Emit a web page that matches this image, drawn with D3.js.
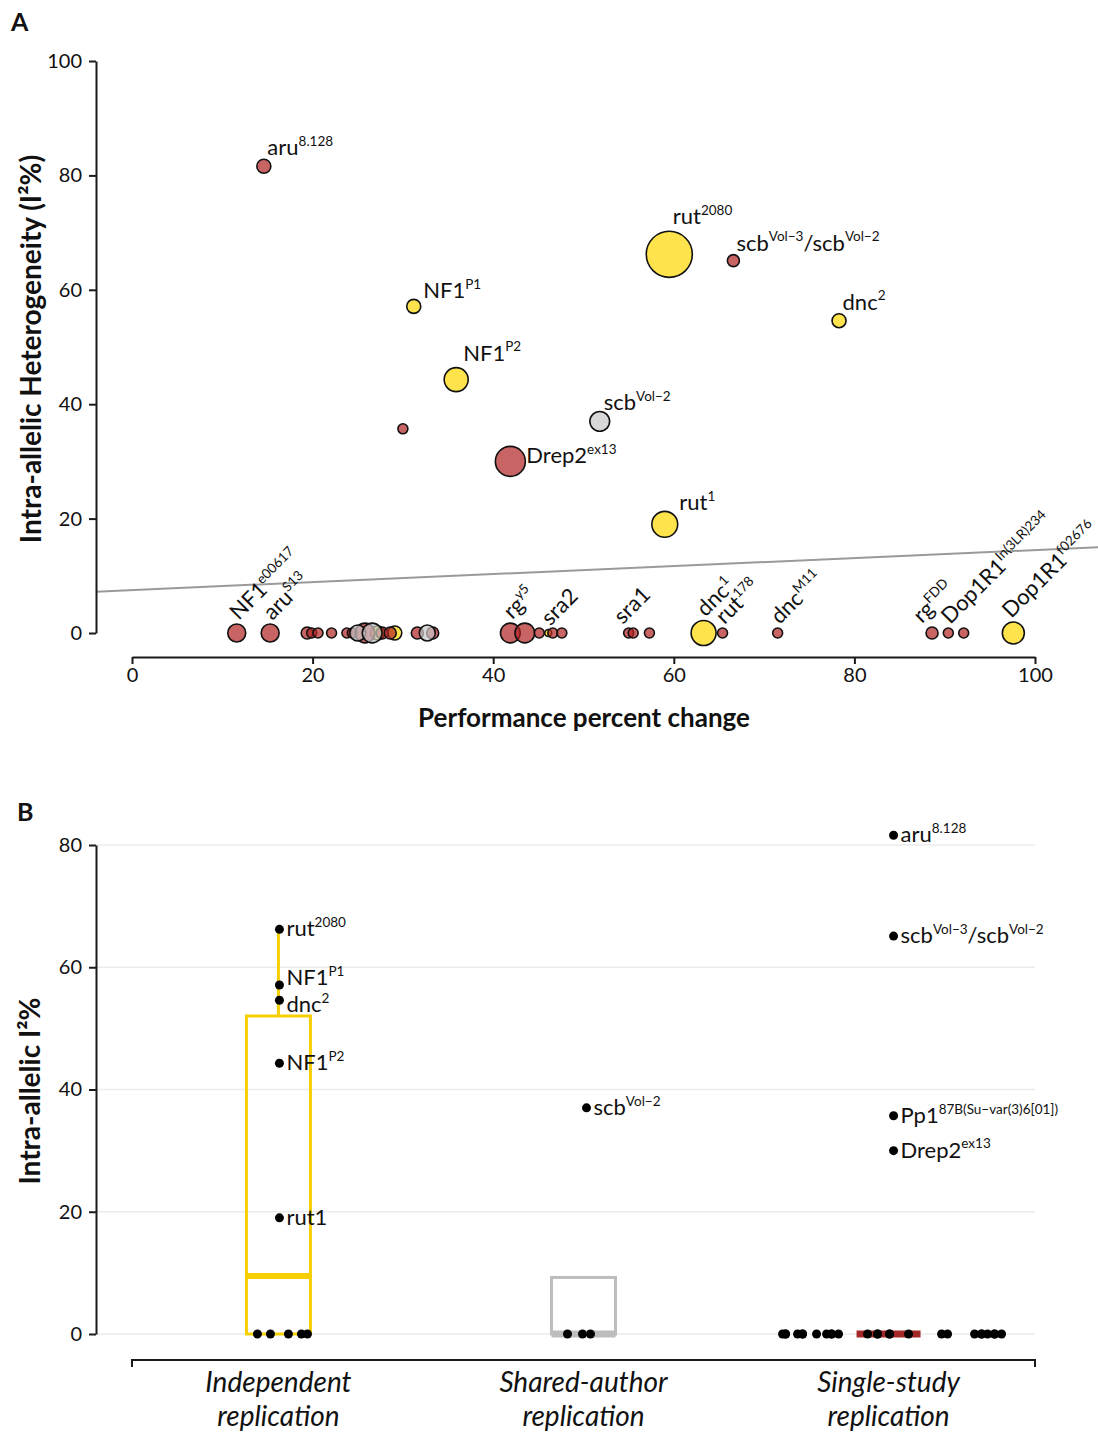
<!DOCTYPE html>
<html>
<head>
<meta charset="utf-8">
<script src="https://cdn.jsdelivr.net/npm/d3@7"></script>
<style>
  body { margin: 0; background: #fff; }
  svg { display: block; }
  text { font-family: Lato, "Noto Sans", sans-serif; fill: #111; }
</style>
</head>
<body>
<svg id="chart" width="1098" height="1432"></svg>
<script>
// ---- data: one entry per allele (superscripts written as ^{...}) ----
const alleleNames = [
  // independent replication
  "rut^{2080}", "NF1^{P1}", "dnc^{2}", "NF1^{P2}", "rut^{1}", "", "", "sra2", "dnc^{1}", "Dop1R1^{f02676}",
  // single-study replication
  "aru^{8.128}", "scb^{Vol−3}/scb^{Vol−2}", "Pp1^{87B(Su−var(3)6[01])}", "Drep2^{ex13}",
  "NF1^{e00617}", "aru^{S13}", "", "", "", "", "", "", "", "", "", "", "",
  "rg^{y5}", "", "", "", "", "sra1", "", "", "rut^{178}", "dnc^{M11}", "rg^{FDD}", "Dop1R1^{In(3LR)234}", "",
  // shared-author replication
  "scb^{Vol−2}", "", "", ""
];
const perfChange = [
  59.5, 31.2, 78.3, 35.9, 59.0, 27.2, 29.1, 46.1, 63.3, 97.6,
  14.6, 66.6, 30.0, 41.9,
  11.6, 15.3, 19.4, 19.9, 20.6, 22.1, 23.8, 24.4, 25.8, 27.7, 28.6, 31.6, 33.3,
  41.9, 43.5, 45.1, 46.6, 47.6, 55.0, 55.5, 57.3, 65.4, 71.5, 88.6, 90.4, 92.1,
  51.8, 25.0, 26.6, 32.7
];
const hetI2 = [
  66.2, 57.1, 54.6, 44.3, 19.0, 0, 0, 0, 0, 0,
  81.6, 65.1, 35.7, 30.0,
  0, 0, 0, 0, 0, 0, 0, 0, 0, 0, 0, 0, 0,
  0, 0, 0, 0, 0, 0, 0, 0, 0, 0, 0, 0, 0,
  37.0, 0, 0, 0
];
const studyWeight = [
  92, 8.5, 8.5, 25, 29, 8.5, 8.5, 2.1, 27, 21,
  8.5, 6.25, 4.3, 39,
  14, 14, 6.25, 4.3, 4.3, 4.3, 4.3, 4.3, 17, 6.25, 6.25, 6.25, 6.25,
  17, 17, 4.3, 4.3, 4.3, 4.3, 4.3, 4.3, 4.3, 4.3, 6.25, 4.3, 4.3,
  17, 11, 17, 11
];
const replication = [
  "I", "I", "I", "I", "I", "I", "I", "I", "I", "I",
  "S", "S", "S", "S",
  "S", "S", "S", "S", "S", "S", "S", "S", "S", "S", "S", "S", "S",
  "S", "S", "S", "S", "S", "S", "S", "S", "S", "S", "S", "S", "S",
  "C", "C", "C", "C"
];
const groupCodes = ["I", "C", "S"];
const groupNames = ["Independent replication", "Shared-author replication", "Single-study replication"];
const xTicksA = [0, 20, 40, 60, 80, 100];
const yTicksA = [0, 20, 40, 60, 80, 100];
const yTicksB = [0, 20, 40, 60, 80];
// fitted trend of I² on performance change
const trendIntercept = 7.5;
const trendSlope = 0.07;

// ---- styling ----
const fillColor = { I: "#FFD700", C: "#C8C8C8", S: "#B22222" };
const boxColor  = { I: "#F5CF00", C: "#BDBDBD", S: "#A52828" };
const hiddenInA = new Set(["Pp1^{87B(Su−var(3)6[01])}"]);
const labelInB = { "rut^{1}": "rut1" };
// label nudges (px) to keep labels clear of neighbours
const nudgeBottom = { "rg^{FDD}": -12, "sra1": -8, "Dop1R1^{f02676}": -4 };
const nudgeUpper = {
  "rut^{2080}": [-8, -3], "NF1^{P1}": [6, 3], "NF1^{P2}": [1, -3],
  "scb^{Vol−2}": [-1, 3], "rut^{1}": [8, 3]
};
const nudgeB = { "NF1^{P1}": -7, "dnc^{2}": 5 };

const points = alleleNames.map((name, i) => ({
  name, perf: perfChange[i], het: hetI2[i], w: studyWeight[i], grp: replication[i]
}));

const svg = d3.select("#chart");

function rich(sel, label, base, sup) {
  const parts = label.split(/(\^\{[^}]*\})/).filter(s => s.length);
  let raised = false;
  parts.forEach(p => {
    if (p.startsWith("^{")) {
      sel.append("tspan").attr("font-size", sup).attr("dy", -base * 0.42).text(p.slice(2, -1));
      raised = true;
    } else {
      sel.append("tspan").attr("font-size", base).attr("dy", raised ? base * 0.42 : 0).text(p);
      raised = false;
    }
  });
}

// ================= Panel A =================
const xA = d3.scaleLinear().domain([0, 100]).range([132, 1035]);
const yA = d3.scaleLinear().domain([0, 100]).range([633, 61]);
const rA = d3.scaleSqrt().domain([0, 100]).range([0, 24]);

svg.append("text").attr("x", 11).attr("y", 31)
  .attr("font-size", 25).attr("font-weight", 700).text("A");

const gA = svg.append("g");

// trend line across the full plotting width
const trendX = [-4, 107.5];
gA.append("line")
  .attr("x1", xA(trendX[0])).attr("y1", yA(trendIntercept + trendSlope * trendX[0]))
  .attr("x2", xA(trendX[1])).attr("y2", yA(trendIntercept + trendSlope * trendX[1]))
  .attr("stroke", "#9a9a9a").attr("stroke-width", 2);

const yAxisA = gA.append("g").attr("transform", "translate(96,0)")
  .call(d3.axisLeft(yA).tickValues(yTicksA).tickSize(7).tickSizeOuter(0).tickPadding(7));
const xAxisA = gA.append("g").attr("transform", "translate(0,657)")
  .call(d3.axisBottom(xA).tickValues(xTicksA).tickSize(7).tickSizeOuter(0).tickPadding(4));
[yAxisA, xAxisA].forEach(ax => {
  ax.attr("font-family", null).attr("font-size", null);
  ax.selectAll("path, line").attr("stroke", "#1a1a1a").attr("stroke-width", 2);
  ax.selectAll("text").attr("font-size", 20).attr("fill", "#111");
});

// bubbles
const order = ["I", "S", "C"];
const drawOrder = points.slice().sort((a, b) => order.indexOf(a.grp) - order.indexOf(b.grp));
gA.append("g").selectAll("circle").data(drawOrder).join("circle")
  .attr("cx", d => xA(d.perf)).attr("cy", d => yA(d.het)).attr("r", d => rA(d.w))
  .attr("fill", d => fillColor[d.grp]).attr("fill-opacity", 0.7)
  .attr("stroke", "#111").attr("stroke-width", 1.6);

// labels
const labA = gA.append("g");
points.filter(d => d.name && !hiddenInA.has(d.name)).forEach(d => {
  const cx = xA(d.perf), cy = yA(d.het), r = rA(d.w);
  const t = labA.append("text");
  if (d.het === 0) {
    const nx = (nudgeBottom[d.name] || 0);
    t.attr("transform", `translate(${cx + 2 + nx},${cy - r - 3}) rotate(-45)`);
  } else if (d.name.startsWith("Drep2")) {
    t.attr("x", cx + r + 1).attr("y", cy + 2);
  } else {
    const [nx, ny] = nudgeUpper[d.name] || [0, 0];
    t.attr("x", cx + r * 0.5 + nx).attr("y", cy - r - 4 + ny);
  }
  rich(t, d.name, 22, 13.5);
});

// axis titles
svg.append("text").attr("transform", "translate(41,349) rotate(-90)")
  .attr("text-anchor", "middle").attr("font-size", 28).attr("font-weight", 700)
  .text("Intra-allelic Heterogeneity (I²%)");
svg.append("text").attr("x", 584).attr("y", 727)
  .attr("text-anchor", "middle").attr("font-size", 26).attr("font-weight", 700)
  .text("Performance percent change");

// ================= Panel B =================
const xB = d3.scalePoint().domain(groupCodes).range([132, 1035]).padding(0.48);
const yB = d3.scaleLinear().domain([0, 80]).range([1334, 845]);
const boxW = 64;

svg.append("text").attr("x", 17).attr("y", 821)
  .attr("font-size", 25).attr("font-weight", 700).text("B");

const gB = svg.append("g");

// horizontal grid
gB.append("g").selectAll("line").data(yTicksB).join("line")
  .attr("x1", 96).attr("x2", 1035).attr("y1", d => yB(d)).attr("y2", d => yB(d))
  .attr("stroke", "#ebebeb").attr("stroke-width", 1.5);

const yAxisB = gB.append("g").attr("transform", "translate(96,0)")
  .call(d3.axisLeft(yB).tickValues(yTicksB).tickSize(7).tickSizeOuter(0).tickPadding(7));
yAxisB.attr("font-family", null).attr("font-size", null);
yAxisB.selectAll("path, line").attr("stroke", "#1a1a1a").attr("stroke-width", 2);
yAxisB.selectAll("text").attr("font-size", 20).attr("fill", "#111");

// bracket-style category axis
gB.append("path")
  .attr("d", `M132,1367V1360H1035V1367`)
  .attr("fill", "none").attr("stroke", "#1a1a1a").attr("stroke-width", 2);

groupCodes.forEach((g, i) => {
  const words = groupNames[i].split(" ");
  const t = gB.append("text").attr("text-anchor", "middle")
    .attr("font-size", 28).attr("font-style", "italic");
  t.append("tspan").attr("x", xB(g)).attr("y", 1392).text(words[0]);
  t.append("tspan").attr("x", xB(g)).attr("y", 1426).text(words[1]);
});

// boxplots (Tukey, 1.5 IQR whiskers)
groupCodes.forEach(g => {
  const vals = points.filter(d => d.grp === g).map(d => d.het).sort(d3.ascending);
  const q1 = d3.quantile(vals, 0.25), med = d3.quantile(vals, 0.5), q3 = d3.quantile(vals, 0.75);
  const iqr = q3 - q1;
  const hiW = d3.max(vals.filter(v => v <= q3 + 1.5 * iqr));
  const loW = d3.min(vals.filter(v => v >= q1 - 1.5 * iqr));
  const cx = xB(g), col = boxColor[g];
  const bg = gB.append("g");
  if (hiW > q3) bg.append("line").attr("x1", cx).attr("x2", cx).attr("y1", yB(q3)).attr("y2", yB(hiW))
    .attr("stroke", col).attr("stroke-width", 3);
  if (loW < q1) bg.append("line").attr("x1", cx).attr("x2", cx).attr("y1", yB(q1)).attr("y2", yB(loW))
    .attr("stroke", col).attr("stroke-width", 3);
  bg.append("rect").attr("x", cx - boxW / 2).attr("width", boxW)
    .attr("y", yB(q3)).attr("height", yB(q1) - yB(q3))
    .attr("fill", "none").attr("stroke", col).attr("stroke-width", 3);
  bg.append("line").attr("x1", cx - boxW / 2).attr("x2", cx + boxW / 2)
    .attr("y1", yB(med)).attr("y2", yB(med))
    .attr("stroke", col).attr("stroke-width", g === "I" ? 6 : 7);
});

// horizontal spread of the points within each column (px)
const spreadZero = {
  I: [-21, -8, 10, 23, 29],
  C: [-16, -1, 7],
  S: [-106, -103, -103, -91, -86, -86, -72, -62, -57, -57, -50, -21, -11, -11, 1, 1, 20, 53, 59, 86, 93, 93, 99, 106, 106, 113]
};
const spreadLabelled = { I: 1, C: 3, S: 5 };
const used = { I: 0, C: 0, S: 0 };
const dotsB = points.map(d => {
  const off = d.het === 0 ? spreadZero[d.grp][used[d.grp]++ % spreadZero[d.grp].length] : spreadLabelled[d.grp];
  return { ...d, x: xB(d.grp) + off, y: yB(d.het) };
});

gB.append("g").selectAll("circle").data(dotsB).join("circle")
  .attr("cx", d => d.x).attr("cy", d => d.y).attr("r", 4.5).attr("fill", "#000");

dotsB.filter(d => d.het > 0).forEach(d => {
  const t = gB.append("text").attr("x", d.x + 7).attr("y", d.y + 7 + (nudgeB[d.name] || 0));
  rich(t, labelInB[d.name] || d.name, 22, 13.5);
});

svg.append("text").attr("transform", "translate(40,1091) rotate(-90)")
  .attr("text-anchor", "middle").attr("font-size", 28).attr("font-weight", 700)
  .text("Intra-allelic I²%");
</script>
</body>
</html>
